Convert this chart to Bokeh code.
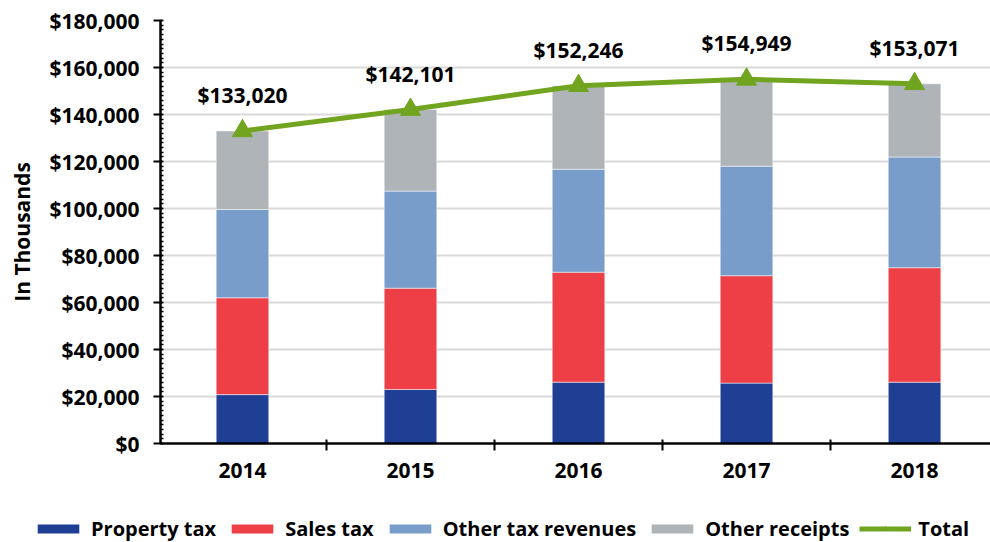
from bokeh.plotting import figure
from bokeh.models import (ColumnDataSource, Range1d, FixedTicker, SingleIntervalTicker,
                          NumeralTickFormatter, Legend, LegendItem)
from bokeh.core.properties import value
from bokeh.embed import file_html
from bokeh.resources import INLINE

years = ["2014", "2015", "2016", "2017", "2018"]
property_tax = [20800, 23000, 26100, 25700, 26100]
sales_tax = [41200, 43100, 46800, 45700, 48700]
other_tax_revenues = [37600, 41300, 43800, 46600, 47100]
other_receipts = [33420, 34701, 35546, 36949, 31171]
total = [133020, 142101, 152246, 154949, 153071]
total_labels = ["$133,020", "$142,101", "$152,246", "$154,949", "$153,071"]

series = ["property_tax", "sales_tax", "other_tax_revenues", "other_receipts"]
series_names = ["Property tax", "Sales tax", "Other tax revenues", "Other receipts"]
colors = ["#1E3F94", "#EE3E46", "#789DCB", "#AEB4B7"]
line_color = "#71A41F"
FONT = "Open Sans"
FS = "21px"

xs = list(range(len(years)))
source = ColumnDataSource(dict(
    x=xs, property_tax=property_tax, sales_tax=sales_tax,
    other_tax_revenues=other_tax_revenues, other_receipts=other_receipts,
    total=total, label=total_labels))

p = figure(width=990, height=500, output_backend="svg", toolbar_location=None,
           x_range=Range1d(-0.488, 4.452), y_range=Range1d(0, 180000),
           min_border_left=160, min_border_right=0, min_border_top=20, min_border_bottom=57)
p.outline_line_color = None

p.vbar_stack(series, x="x", width=0.313, color=colors, source=source,
             line_color="white", line_width=0.5)
p.line("x", "total", source=source, line_color=line_color, line_width=5)
p.scatter("x", "total", source=source, marker="triangle", size=20,
          fill_color=line_color, line_color=line_color)
p.text("x", "total", text="label", source=source, y_offset=-36,
       text_align="center", text_baseline="middle", text_font=value(FONT),
       text_font_style="bold", text_font_size=FS, text_color="black")

p.xgrid.visible = False
p.ygrid.grid_line_color = "#D9D9D9"
p.ygrid.grid_line_width = 2

xa = p.xaxis[0]
xa.ticker = FixedTicker(ticks=xs, minor_ticks=[i + 0.5 for i in xs[:-1]])
xa.major_label_overrides = {i: y for i, y in zip(xs, years)}
xa.major_tick_in = 0
xa.major_tick_out = 0
xa.minor_tick_in = 4
xa.minor_tick_out = 7
xa.minor_tick_line_color = "black"
xa.minor_tick_line_width = 2
xa.axis_line_width = 2.5
xa.axis_line_color = "black"
xa.major_label_standoff = 12
xa.major_label_text_font = FONT
xa.major_label_text_font_style = "bold"
xa.major_label_text_font_size = FS
xa.major_label_text_color = "black"

ya = p.yaxis[0]
ya.ticker = SingleIntervalTicker(interval=20000, num_minor_ticks=10)
ya.formatter = NumeralTickFormatter(format="$0,0")
ya.major_tick_in = 2
ya.major_tick_out = 7
ya.major_tick_line_width = 2
ya.minor_tick_in = 3
ya.minor_tick_out = 0
ya.minor_tick_line_width = 1.5
ya.minor_tick_line_color = "black"
ya.axis_line_width = 2.5
ya.axis_line_color = "black"
ya.major_label_standoff = 14
ya.major_label_text_font = FONT
ya.major_label_text_font_style = "bold"
ya.major_label_text_font_size = FS
ya.major_label_text_color = "black"
ya.axis_label = "In Thousands"
ya.axis_label_text_font = FONT
ya.axis_label_text_font_style = "bold"
ya.axis_label_text_font_size = FS
ya.axis_label_text_color = "black"
ya.axis_label_standoff = 10

# legend strip: same series drawn outside the visible range only to feed the legend
lf = figure(width=990, height=42, output_backend="svg", toolbar_location=None,
            x_range=Range1d(-0.488, 4.452), y_range=Range1d(1e9, 2e9),
            x_axis_location=None, y_axis_location=None, min_border=0)
lf.outline_line_color = None
lf.grid.visible = False
items = []
for col, name, c in zip(series, series_names, colors):
    r = lf.vbar(x="x", top=col, width=0.313, source=source, fill_color=c, line_color=None)
    items.append(LegendItem(label=name, renderers=[r]))
rl = lf.line("x", "total", source=source, line_color=line_color, line_width=5)
rs = lf.scatter("x", "total", source=source, marker="triangle", size=12,
                fill_color=line_color, line_color=line_color)
items.append(LegendItem(label="Total", renderers=[rl, rs]))

leg = Legend(items=items, orientation="horizontal", location=(32, 0),
             border_line_color=None, background_fill_alpha=0, padding=0, margin=0,
             spacing=10, glyph_width=52, glyph_height=11, label_standoff=7,
             label_text_font=FONT, label_text_font_style="bold",
             label_text_font_size="20px", label_text_color="black")
lf.add_layout(leg, "center")

open("out.html", "w").write(file_html([p, lf], INLINE))
